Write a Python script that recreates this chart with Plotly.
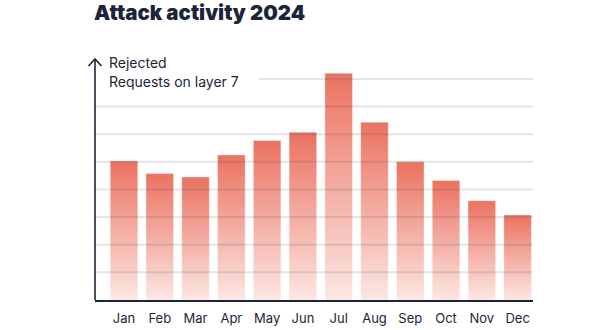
import plotly.graph_objects as go

months = ["Jan", "Feb", "Mar", "Apr", "May", "Jun", "Jul", "Aug", "Sep", "Oct", "Nov", "Dec"]
rejected = [50.3, 45.8, 44.5, 52.5, 57.7, 60.7, 82.0, 64.3, 50.0, 43.2, 35.9, 30.8]
grid_vals = [10, 20, 30, 40, 50, 60, 70, 80]

title_text = "Attack activity 2024"
axis_label = ["Rejected", "Requests on layer 7"]

NAVY = "#1c2538"
BAR_TOP = "#eb7260"
BAR_BOTTOM = "#fce7e3"

W, H = 605, 330
ML, MR, MT, MB = 95, 72, 59, 29.5
plot_w = W - ML - MR
plot_h = H - MT - MB

X_RANGE = [-0.81, 11.43]
Y_RANGE = [0, 87.2]
half = 0.385

fig = go.Figure()
for i, (m, v) in enumerate(zip(months, rejected)):
    fig.add_trace(go.Scatter(
        x=[i - half, i - half, i + half, i + half, i - half],
        y=[0, v, v, 0, 0],
        mode="lines",
        fill="toself",
        line=dict(width=1, color="rgba(255,255,255,0.35)"),
        fillgradient=dict(type="vertical", start=0, stop=v,
                          colorscale=[[0, BAR_BOTTOM], [1, BAR_TOP]]),
        hoverinfo="skip",
        showlegend=False,
        name=m,
    ))

shapes = []
# gridlines above bars
for g in grid_vals:
    x0 = 0
    if g == grid_vals[-1]:
        x0 = (259 - ML) / plot_w
    shapes.append(dict(type="line", xref="paper", yref="y", x0=x0, x1=1, y0=g, y1=g,
                       line=dict(color="rgba(60,70,95,0.14)", width=2), layer="above"))
# y axis with arrow
shapes.append(dict(type="line", xref="paper", yref="paper", x0=0, x1=0, y0=0, y1=1,
                   line=dict(color=NAVY, width=1.6), layer="above"))
dx = 6.5 / plot_w
dy = 7 / plot_h
shapes.append(dict(type="path", xref="paper", yref="paper",
                   path=f"M {-dx},{1-dy} L 0,1 L {dx},{1-dy}",
                   line=dict(color=NAVY, width=1.6), layer="above"))

annotations = [
    dict(text=axis_label[0], xref="paper", yref="paper", x=(107 - ML) / plot_w,
         y=1 - (63 - MT) / plot_h, xanchor="left", yanchor="middle", showarrow=False,
         font=dict(family="Inter", size=14, color=NAVY)),
    dict(text=axis_label[1], xref="paper", yref="paper", x=(107 - ML) / plot_w,
         y=1 - (82 - MT) / plot_h, xanchor="left", yanchor="middle", showarrow=False,
         font=dict(family="Inter", size=14, color=NAVY)),
    dict(text=title_text, xref="paper", yref="paper", x=(92 - ML) / plot_w,
         y=1 + (MT - 12) / plot_h, xanchor="left", yanchor="middle", showarrow=False,
         font=dict(family="Inter", size=20.5, color=NAVY, weight=900)),
]

fig.update_layout(
    width=W, height=H,
    margin=dict(l=ML, r=MR, t=MT, b=MB),
    paper_bgcolor="white", plot_bgcolor="white",
    xaxis=dict(range=X_RANGE, tickmode="array", tickvals=list(range(len(months))),
               ticktext=months, showgrid=False, zeroline=False, showline=True,
               linecolor=NAVY, linewidth=2, ticks="", automargin=False,
               ticklabelstandoff=5,
               tickfont=dict(family="Inter", size=13, color=NAVY), fixedrange=True),
    yaxis=dict(range=Y_RANGE, showgrid=False, zeroline=False, showline=False,
               showticklabels=False, ticks="", automargin=False, fixedrange=True),
    shapes=shapes,
    annotations=annotations,
    showlegend=False,
)

fig.write_html("out.html")
